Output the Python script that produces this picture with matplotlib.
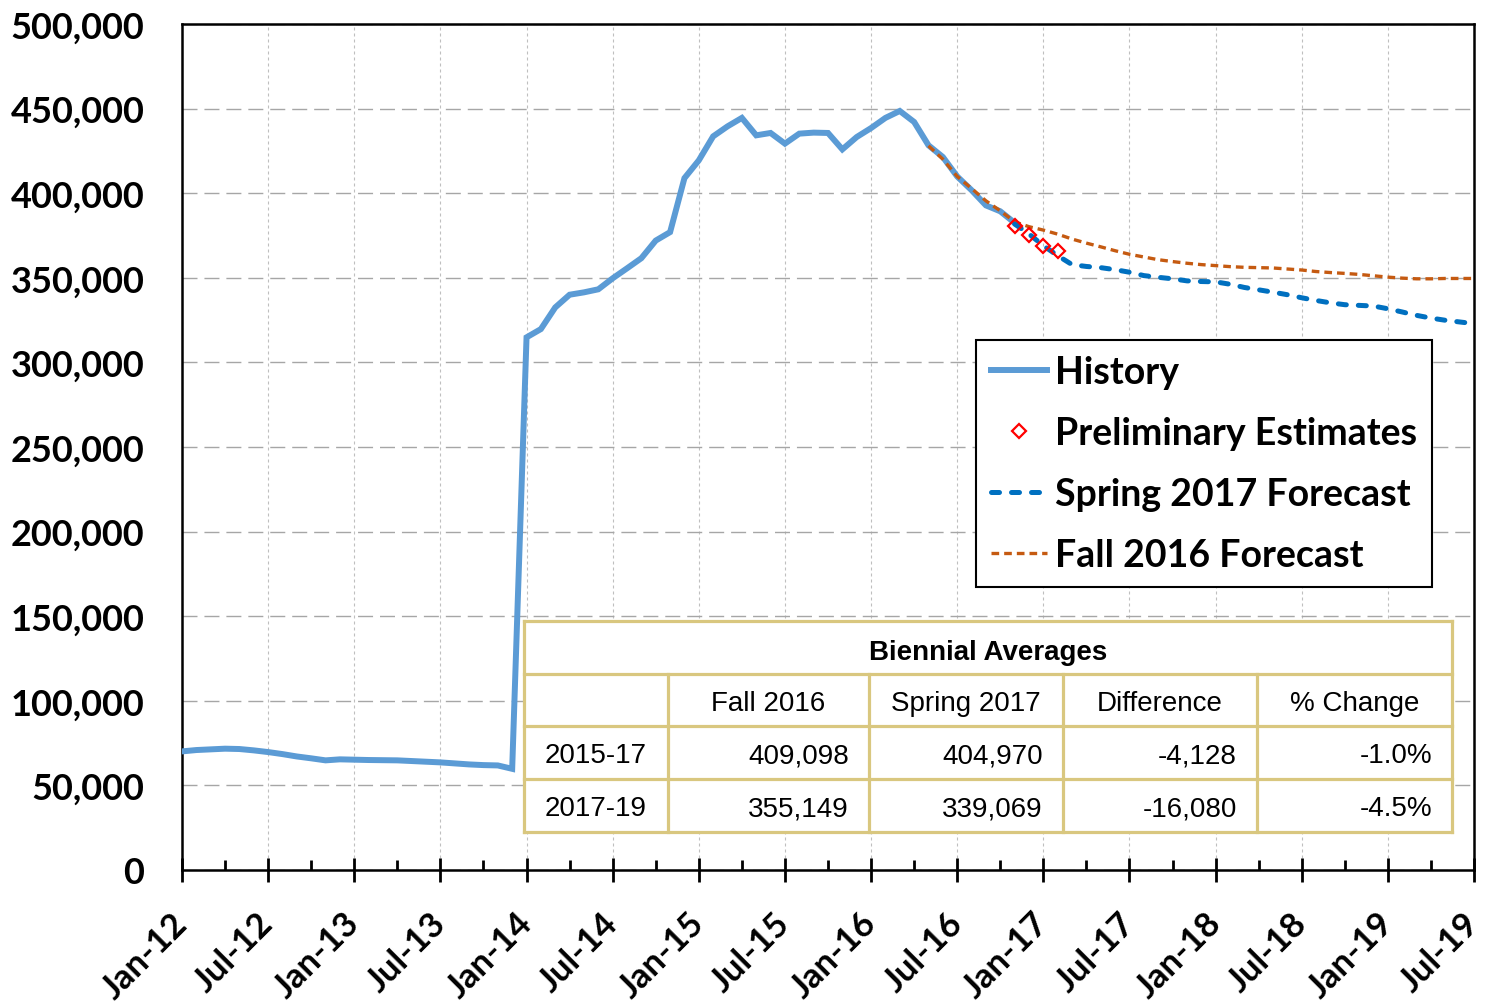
import numpy as np
import pandas as pd
import matplotlib
matplotlib.use('Agg')
from matplotlib import pyplot as plt
from matplotlib.lines import Line2D
from matplotlib.patches import Rectangle
from matplotlib.font_manager import FontProperties

# ---- data (monthly caseload) ----
start_month = '2012-01'
n_months = 91  # Jan-12 .. Jul-19

history = [
    70100, 70900, 71300, 71700, 71500, 70700, 69700, 68500, 67100, 66000, 64800, 65400,
    65200, 65000, 64900, 64800, 64400, 64000, 63600, 63000, 62400, 62000, 61800, 59800,
    314800, 319700, 332500, 340000, 341400, 343200, 349700, 355600, 361600, 372000, 377000, 408900,
    419400, 433600, 439500, 444500, 434200, 435600, 429300, 435200, 435800, 435600, 425900, 433200,
    438500, 444500, 448600, 442100, 428300, 421400, 409900, 401800, 392800, 389300, 382500,
]
history_start = 0

prelim = [380800, 375300, 368600, 365700]
prelim_start = 58  # Nov-16

spring_2017 = [
    381800, 375900,
    369000, 363100, 357800, 356700, 356000, 354800, 353300, 351300, 350300, 349400, 348200, 347800,
    347600, 346200, 344300, 342900, 341500, 340000, 338200, 336600, 335200, 334100, 333700, 333300,
    331700, 329800, 327800, 326200, 324900, 323900, 322900,
]
spring_start = 58  # Nov-16

fall_2016 = [
    428000, 420100, 409900, 402800, 395500, 389600, 383100, 380200,
    378200, 375800, 372900, 370500, 368300, 366000, 363900, 362300, 360700, 359600, 358600, 357800,
    357200, 356600, 356200, 356000, 355800, 355200, 354600, 353700, 353100, 352600, 352000, 351200,
    350400, 349800, 349400, 349400, 349600, 349600, 349600,
]
fall_start = 52  # May-16

table_title = 'Biennial Averages'
col_headers = ['', 'Fall 2016', 'Spring 2017', 'Difference', '% Change']
biennia = ['2015-17', '2017-19']
fall_avg = [409098, 355149]
spring_avg = [404970, 339069]

legend_labels = ['History', 'Preliminary Estimates', 'Spring 2017 Forecast', 'Fall 2016 Forecast']

# ---- figure ----
W, H = 1485, 1003
fig = plt.figure(figsize=(W / 100, H / 100), dpi=100)
ax = fig.add_axes([182 / W, 1 - 871 / H, 1292 / W, 846 / H])

c_hist = '#5B9BD5'
c_spring = '#0070C0'
c_fall = '#C55A11'
spring_ls = (0, (1.6, 2.4))
fall_ls = (0, (2.3, 1.5))

def xs(start, vals):
    return np.arange(start, start + len(vals))

ax.plot(xs(history_start, history), history, color=c_hist, lw=4.3,
        solid_joinstyle='miter', zorder=3)
ax.plot(xs(fall_start, fall_2016), fall_2016, color=c_fall, lw=2.4,
        linestyle=fall_ls, zorder=4)
ax.plot(xs(spring_start, spring_2017), spring_2017, color=c_spring, lw=3.6,
        linestyle=spring_ls, dash_capstyle='round', zorder=5)
ax.plot(xs(prelim_start, prelim), prelim, linestyle='none', marker='D', ms=7.5,
        mfc='none', mec='#FF0000', mew=1.6, zorder=6)

# axes
ax.set_xlim(0, n_months - 1)
ax.set_ylim(0, 500000)
ax.set_yticks(np.arange(0, 500001, 50000))
ax.yaxis.set_major_formatter(matplotlib.ticker.FuncFormatter(lambda v, p: f'{v:,.0f}'))

tick_pos = np.arange(0, n_months, 6)
tick_lbl = pd.date_range(start_month, periods=len(tick_pos), freq='6MS').strftime('%b-%y')
ax.set_xticks(tick_pos)
ax.set_xticklabels(tick_lbl)
ax.set_xticks(np.arange(0, n_months, 3), minor=True)

for lbl in ax.get_yticklabels():
    lbl.set_fontproperties(FontProperties(family='Lato', weight='bold', size=26))
for lbl in ax.get_xticklabels():
    lbl.set_fontproperties(FontProperties(family='Lato', weight='bold', size=25))
    lbl.set_rotation(45)
    lbl.set_ha('right')
    lbl.set_va('center')
    lbl.set_rotation_mode('anchor')
ax.tick_params(axis='y', length=0, pad=27)
ax.tick_params(axis='x', which='major', direction='inout', length=17, width=2, pad=26)
ax.tick_params(axis='x', which='minor', direction='in', length=7, width=2)

ax.grid(axis='y', color='#A6A6A6', lw=1.0, linestyle=(0, (10.8, 5)), zorder=0)
ax.grid(axis='x', which='major', color='#BFBFBF', lw=0.8, linestyle=(0, (2.7, 2.7)), zorder=0)
ax.set_axisbelow(True)
for s in ax.spines.values():
    s.set_linewidth(1.8)
    s.set_color('black')

# legend
handles = [
    Line2D([], [], color=c_hist, lw=4.3),
    Line2D([], [], linestyle='none', marker='D', ms=7.5, mfc='none', mec='#FF0000', mew=1.6),
    Line2D([], [], color=c_spring, lw=3.6, linestyle=spring_ls, dash_capstyle='round'),
    Line2D([], [], color=c_fall, lw=2.4, linestyle=fall_ls),
]
leg = ax.legend(handles, legend_labels, loc='upper left', bbox_to_anchor=(0.6146, 0.6265),
                prop=FontProperties(family='Lato', weight='bold', size=27), frameon=True,
                fancybox=False, framealpha=1, edgecolor='black', borderpad=0.4,
                labelspacing=0.72, handlelength=1.5, handletextpad=0.2, borderaxespad=0)
leg.get_frame().set_linewidth(1.5)
leg.set_zorder(10)

# biennial averages table
tx0, ty0, tw, th = 524, 622, 928, 211
col_w = [144, 201, 194, 194, 195]
row_h = [53, 52, 53, 53]
tax = fig.add_axes([tx0 / W, 1 - (ty0 + th) / H, tw / W, th / H])
tax.set_xlim(0, tw)
tax.set_ylim(th, 0)
tax.axis('off')
tax.add_patch(Rectangle((0, 0), tw, th, facecolor='white', edgecolor='none', zorder=0))

edge = '#D9C77F'
col_x = np.concatenate([[0], np.cumsum(col_w)])
row_y = np.concatenate([[0], np.cumsum(row_h)])
for y in row_y:
    tax.plot([0, tw], [y, y], color=edge, lw=2.3, clip_on=False, solid_capstyle='projecting')
for i, x in enumerate(col_x):
    y_top = 0 if i in (0, len(col_x) - 1) else row_y[1]
    tax.plot([x, x], [y_top, th], color=edge, lw=2.3, clip_on=False, solid_capstyle='projecting')

tfont = dict(family='Liberation Sans', size=20)
dy = 3
tax.text(tw / 2, row_h[0] / 2 + dy + 1, table_title, ha='center', va='center',
         family='Liberation Sans', weight='bold', size=20)
yc = (row_y[1] + row_y[2]) / 2 + dy
for j, h in enumerate(col_headers):
    tax.text((col_x[j] + col_x[j + 1]) / 2, yc, h, ha='center', va='center', **tfont)

pad = 20
for i, per in enumerate(biennia):
    yc = (row_y[i + 2] + row_y[i + 3]) / 2 + dy
    diff = spring_avg[i] - fall_avg[i]
    pct = diff / fall_avg[i] * 100
    cells = [f'{fall_avg[i]:,}', f'{spring_avg[i]:,}', f'{diff:,}', f'{pct:.1f}%']
    tax.text((col_x[0] + col_x[1]) / 2, yc, per, ha='center', va='center', **tfont)
    for j, c in enumerate(cells):
        tax.text(col_x[j + 2] - pad, yc, c, ha='right', va='center', **tfont)

fig.savefig('out.png', dpi=100)
